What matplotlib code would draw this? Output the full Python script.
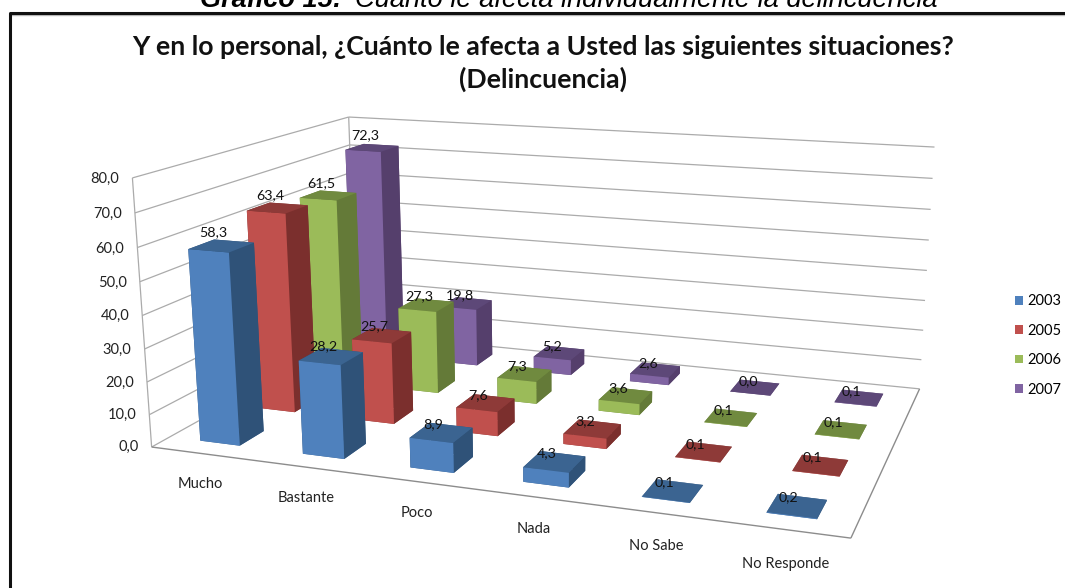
import numpy as np
import matplotlib
matplotlib.use("Agg")
from matplotlib import pyplot as plt
from matplotlib.lines import Line2D
from matplotlib.patches import Patch
from mpl_toolkits.mplot3d import proj3d
from mpl_toolkits.mplot3d.art3d import Line3DCollection

categories = ["Mucho", "Bastante", "Poco", "Nada", "No Sabe", "No Responde"]
years = ["2003", "2005", "2006", "2007"]
v2003 = [58.3, 28.2, 8.9, 4.3, 0.1, 0.2]
v2005 = [63.4, 25.7, 7.6, 3.2, 0.1, 0.1]
v2006 = [61.5, 27.3, 7.3, 3.6, 0.1, 0.1]
v2007 = [72.3, 19.8, 5.2, 2.6, 0.0, 0.1]
z_ticks = [0, 10, 20, 30, 40, 50, 60, 70, 80]

series = [v2003, v2005, v2006, v2007]
# front, top, side
colours = [("#4F81BD", "#3B6491", "#2F5278"),
           ("#C0504D", "#8E3A38", "#7B2F2D"),
           ("#9BBB59", "#708A3F", "#647A38"),
           ("#8064A2", "#5D4878", "#553F6C")]

W, H = 1065, 588
plt.rcParams['font.family'] = ['Lato', 'DejaVu Sans']

fig = plt.figure(figsize=(W / 100, H / 100), dpi=100, facecolor="white")

# Axes3D forces a square box, so make it as wide as the figure and let it overhang
ax = fig.add_axes([0, (H - W) / 2 / H, 1, W / H], projection="3d")
ax.set_axis_off()
ax.computed_zorder = False
ax.patch.set_visible(False)
pad = (W - H) / 2
ax.viewLim.intervalx = (0, W)
ax.viewLim.intervaly = (H + pad, -pad)

########################################################
# Camera: solve the projection from where the box corners sit in the picture
########################################################
nx, ny = len(categories), len(years)
corners = [((0, 0, 0), (150, 447)), ((nx, 0, 0), (851, 538)),
           ((nx, ny, 0), (919, 389)), ((0, ny, 0), (358, 333)),
           ((0, 0, 80), (134, 178)), ((0, ny, 80), (347, 117)),
           ((nx, ny, 80), (935, 147))]
rows = []
for (X, Y, Z), (u, v) in corners:
    rows.append([X, Y, Z, 1, 0, 0, 0, 0, -u * X, -u * Y, -u * Z, -u])
    rows.append([0, 0, 0, 0, X, Y, Z, 1, -v * X, -v * Y, -v * Z, -v])
P = np.linalg.svd(np.array(rows, dtype=float))[2][-1].reshape(3, 4)
if P[2] @ np.array([0, 0, 0, 1.0]) < 0:
    P = -P
M = np.vstack([P[0], P[1], [0, 0, 0, -1], P[2]])
ax.get_proj = lambda: M


def label(x, y, z, s, **kw):
    # plain 2D annotation at the projected spot
    u, v, _ = proj3d.proj_transform(x, y, z, M)
    ax.annotate(s, (float(u), float(v)), va="center", **kw)


########################################################
# Walls and floor
########################################################
segs = []
for t in z_ticks:
    segs.append([(0, 0, t), (0, ny, t)])
    segs.append([(0, ny, t), (nx, ny, t)])
    label(-0.13, 0, t - 0.6, "{:.1f}".format(t).replace(".", ","), ha="right",
          fontsize=10.5, color="#222222", zorder=500)
segs.append([(0, 0, 0), (0, 0, 80)])
segs.append([(0, ny, 0), (0, ny, 80)])
walls = Line3DCollection(segs, colors="#ABABAB", linewidths=0.9, zorder=1)
ax.add_collection3d(walls)
edges = Line3DCollection([[(0, 0, 0), (nx, 0, 0)], [(nx, 0, 0), (nx, ny, 0)]], colors="#8C8C8C",
                         linewidths=1.0, zorder=2)
ax.add_collection3d(edges)

########################################################
# Bars, back row first
########################################################
bw = 0.39
bd = 0.42
rank = 10
for s in range(ny - 1, -1, -1):
    front, top, side = colours[s]
    for c in range(nx):
        # face order of bar3d: bottom, top, front, back, left, right
        faces = [top, top, front, side, side, side]
        bars = ax.bar3d(c + 0.5 - bw / 2, s + 0.5 - bd / 2, 0, bw, bd, series[s][c],
                        color=faces, shade=False, linewidth=0)
        bars.set_zorder(rank)
        rank += 1
        val = series[s][c]
        label(c + 0.43, s + 0.5, val + 2.1 + 0.03 * val, "{:.1f}".format(val).replace(".", ","),
              ha="center", fontsize=10.3, color="#111111", zorder=600)

for c in range(nx):
    label(c + 0.87 - 0.045 * c, -0.64, 0, categories[c], ha="center", fontsize=10.5,
          color="#222222", zorder=500)

########################################################
# Title, caption, legend and frame
########################################################
fig.text(543 / W, 1 - 47 / H, "Y en lo personal, ¿Cuánto le afecta a Usted las siguientes situaciones?",
         ha="center", va="center", fontsize=19.2, fontweight="bold", color="#111111")
fig.text(543 / W, 1 - 79 / H, "(Delincuencia)", ha="center", va="center", fontsize=19.2,
         fontweight="bold", color="#111111")

fig.text(200 / W, 1 - 7 / H, "Gráfico 15:", ha="left", va="baseline", fontsize=19.5,
         fontweight="bold", style="italic", family="Liberation Sans")
fig.text(355 / W, 1 - 7 / H, "Cuánto le afecta individualmente la delincuencia", ha="left", va="baseline",
         fontsize=19.6, style="italic", family="Liberation Sans")

handles = [Patch(facecolor=colours[i][0], label=years[i]) for i in range(ny)]
fig.legend(handles=handles, loc="center left", bbox_to_anchor=(1002 / W, 1 - 345.5 / H), frameon=False,
           fontsize=10.5, labelspacing=1.06, handlelength=0.55, handleheight=0.55, handletextpad=0.3)

fig.add_artist(Line2D([10 / W, 1], [1 - 14.5 / H, 1 - 14.5 / H], color="#BBBBBB", lw=1.0))
fig.add_artist(Line2D([10 / W, 10 / W, 1], [0, 1 - 12.5 / H, 1 - 12.5 / H], color="#111111", lw=2.2))

fig.savefig("out.png", dpi=100)
